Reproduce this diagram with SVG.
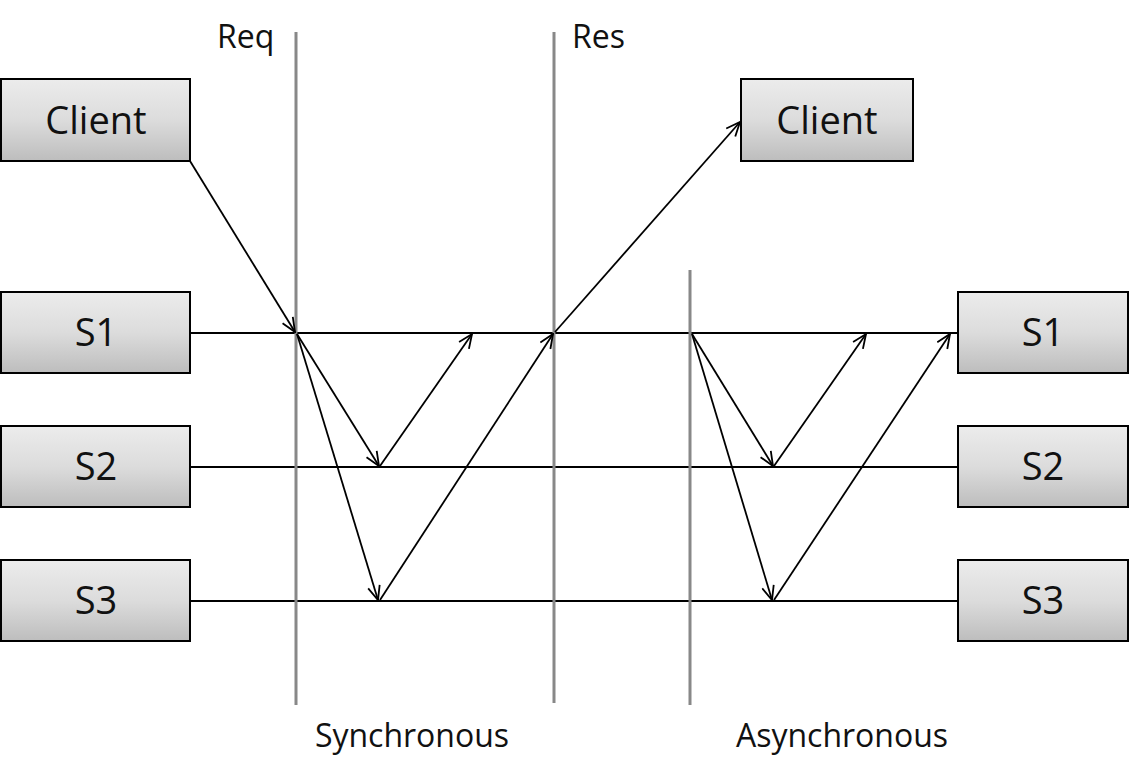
<svg xmlns="http://www.w3.org/2000/svg" width="1130" height="779" viewBox="0 0 1130 779">
<style>
.box{stroke:#000;stroke-width:2;fill:url(#g)}
.nt{font-family:"Open Sans","DejaVu Sans",sans-serif;font-size:38px;fill:#111;text-anchor:middle}
.lb{font-family:"Open Sans","DejaVu Sans",sans-serif;font-size:32px;fill:#111}
.tl{stroke:#000;stroke-width:2;fill:none}
.ar{stroke:#000;stroke-width:1.8;fill:none;marker-end:url(#m)}
.sep{stroke:#888;stroke-width:3}
</style>
<defs>
<linearGradient id="g" x1="0" y1="0" x2="0" y2="1">
<stop offset="0" stop-color="#ececec"/>
<stop offset="0.5" stop-color="#dcdcdc"/>
<stop offset="1" stop-color="#bdbdbd"/>
</linearGradient>
<marker id="m" viewBox="0 0 16 14" refX="15" refY="7" markerWidth="16" markerHeight="14" markerUnits="userSpaceOnUse" orient="auto">
<path d="M1,1 L15,7 L1,13" fill="none" stroke="#000" stroke-width="1.8"/>
</marker>
</defs>
<rect width="1130" height="779" fill="#fff"/>
<g id="timelines">
<line class="tl" x1="190" y1="333" x2="958" y2="333"/>
<line class="tl" x1="190" y1="467" x2="958" y2="467"/>
<line class="tl" x1="190" y1="601" x2="958" y2="601"/>
</g>
<g id="separators">
<line class="sep" x1="296" y1="32" x2="296" y2="705"/>
<line class="sep" x1="554" y1="32" x2="554" y2="703"/>
<line class="sep" x1="690" y1="270" x2="690" y2="705"/>
</g>
<g id="connectors">
<line class="ar" x1="190" y1="161" x2="295" y2="332"/>
<line class="ar" x1="297" y1="334" x2="379" y2="466"/>
<line class="ar" x1="297" y1="334" x2="378" y2="600"/>
<line class="ar" x1="380" y1="466" x2="472" y2="334"/>
<line class="ar" x1="380" y1="600" x2="553" y2="334"/>
<line class="ar" x1="555" y1="332" x2="740" y2="122"/>
<line class="ar" x1="692" y1="334" x2="773" y2="466"/>
<line class="ar" x1="692" y1="334" x2="772" y2="600"/>
<line class="ar" x1="774" y1="466" x2="866" y2="334"/>
<line class="ar" x1="774" y1="600" x2="950" y2="334"/>
</g>
<g id="client-left"><rect class="box" x="1" y="79" width="189" height="82"/><text class="nt" x="96" y="134">Client</text></g>
<g id="client-right"><rect class="box" x="741" y="79" width="172" height="82"/><text class="nt" x="827" y="134">Client</text></g>
<g id="s1-left"><rect class="box" x="1" y="292" width="189" height="81"/><text class="nt" x="96" y="346">S1</text></g>
<g id="s2-left"><rect class="box" x="1" y="426" width="189" height="81"/><text class="nt" x="96" y="480">S2</text></g>
<g id="s3-left"><rect class="box" x="1" y="560" width="189" height="81"/><text class="nt" x="96" y="614">S3</text></g>
<g id="s1-right"><rect class="box" x="958" y="292" width="170" height="81"/><text class="nt" x="1043" y="346">S1</text></g>
<g id="s2-right"><rect class="box" x="958" y="426" width="170" height="81"/><text class="nt" x="1043" y="480">S2</text></g>
<g id="s3-right"><rect class="box" x="958" y="560" width="170" height="81"/><text class="nt" x="1043" y="614">S3</text></g>
<g id="labels">
<text class="lb" x="217" y="48">Req</text>
<text class="lb" x="572" y="48">Res</text>
<text class="lb" x="412" y="747" text-anchor="middle">Synchronous</text>
<text class="lb" x="842" y="747" text-anchor="middle">Asynchronous</text>
</g>
</svg>
